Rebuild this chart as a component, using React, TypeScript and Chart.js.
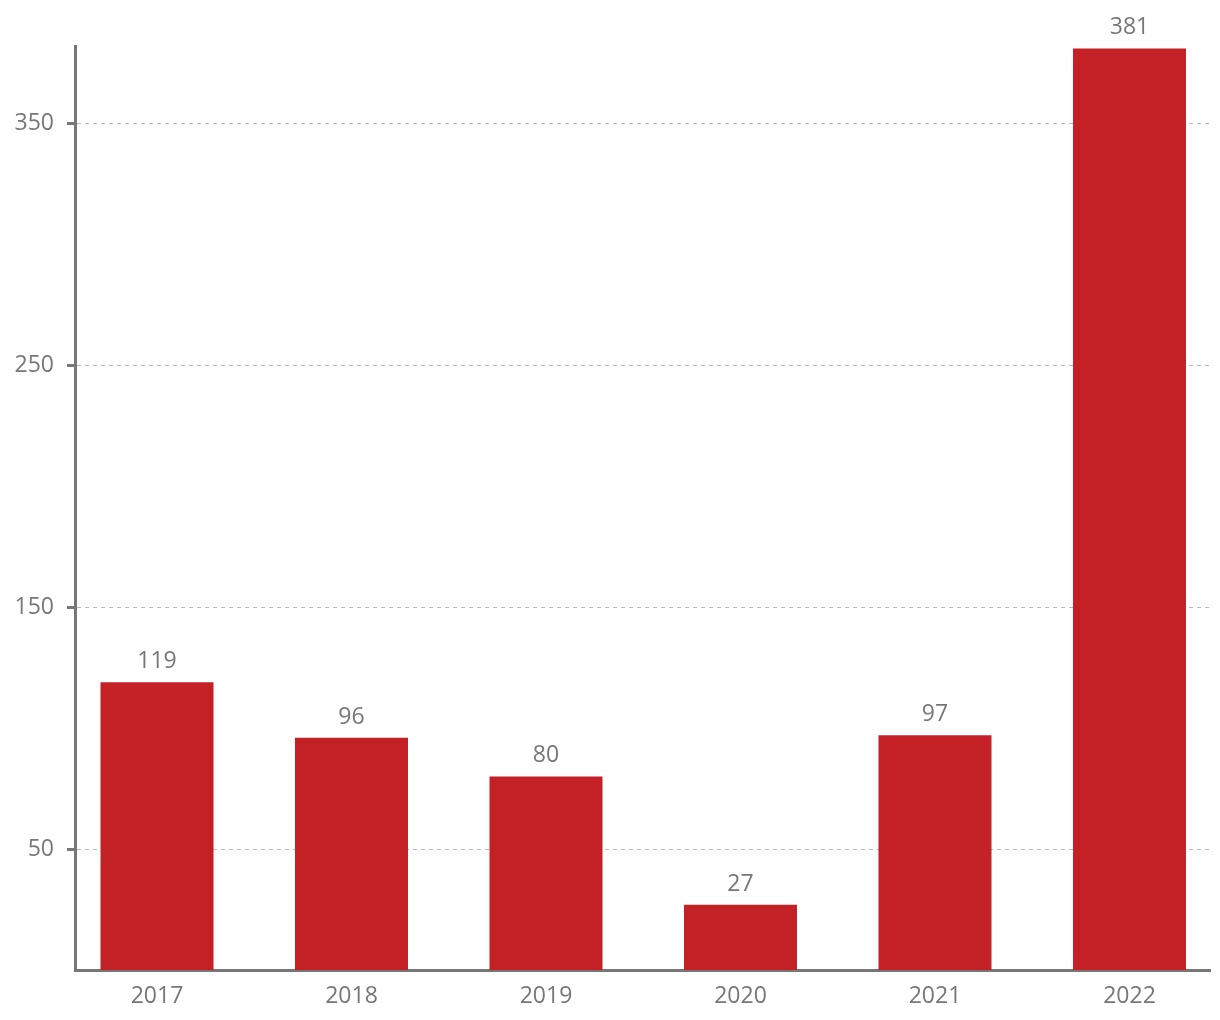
import React, { useEffect, useRef } from "react";
import { Chart, registerables } from "chart.js";

Chart.register(...registerables);

const categories = ["2017", "2018", "2019", "2020", "2021", "2022"];
const values = [119, 96, 80, 27, 97, 381];
const yTicks = [50, 150, 250, 350];

const FONT = "'Open Sans', sans-serif";
const GRAY = "#777777";

const valueLabels = {
  id: "valueLabels",
  afterDatasetsDraw(chart: any) {
    const ctx = chart.ctx;
    const meta = chart.getDatasetMeta(0);
    ctx.save();
    ctx.fillStyle = GRAY;
    ctx.font = `23px ${FONT}`;
    ctx.textAlign = "center";
    ctx.textBaseline = "alphabetic";
    meta.data.forEach((bar: any, i: number) => {
      ctx.fillText(String(values[i]), bar.x, bar.y - 14);
    });
    ctx.restore();
  },
};

export default function App() {
  const ref = useRef<HTMLCanvasElement | null>(null);
  useEffect(() => {
    document.body.style.margin = "0";
    const chart = new Chart(ref.current as HTMLCanvasElement, {
      type: "bar",
      data: {
        datasets: [
          {
            data: values.map((v, i) => ({ x: i, y: v })),
            backgroundColor: "#c42127",
            borderWidth: 0,
            barPercentage: 0.581,
            categoryPercentage: 1,
          },
        ],
      },
      options: {
        animation: false,
        responsive: false,
        maintainAspectRatio: false,
        layout: { padding: { top: 46, right: 10, left: 0, bottom: 0 } },
        plugins: { legend: { display: false }, tooltip: { enabled: false } },
        scales: {
          x: {
            type: "linear",
            offset: false,
            min: -0.4216,
            max: 5.414,
            afterBuildTicks: (s: any) => {
              s.ticks = categories.map((_, i) => ({ value: i }));
            },
            afterFit: (s: any) => {
              s.height = 50;
            },
            grid: { display: false, drawTicks: false, offset: false },
            border: { display: true, color: GRAY, width: 3 },
            ticks: {
              padding: 13,
              color: GRAY,
              font: { family: FONT, size: 23 },
              callback: (v: any) => categories[v] ?? "",
              maxRotation: 0,
              autoSkip: false,
            },
          },
          y: {
            min: 0,
            max: 382,
            afterBuildTicks: (s: any) => {
              s.ticks = yTicks.map((v) => ({ value: v }));
            },
            afterFit: (s: any) => {
              s.width = 75;
            },
            grid: {
              color: "#b4bcc1",
              lineWidth: 1,
              drawTicks: true,
              tickLength: 8,
              tickColor: GRAY,
              tickWidth: 3,
              tickBorderDash: [],
            },
            border: { display: true, color: GRAY, width: 3, dash: [4, 4] },
            ticks: {
              padding: 13,
              color: GRAY,
              font: { family: FONT, size: 23 },
            },
          },
        },
      },
      plugins: [valueLabels],
    } as any);
    return () => chart.destroy();
  }, []);
  return (
    <div style={{ width: 1220, height: 1020 }}>
      <canvas ref={ref} width={1220} height={1020} style={{ display: "block" }} />
    </div>
  );
}
